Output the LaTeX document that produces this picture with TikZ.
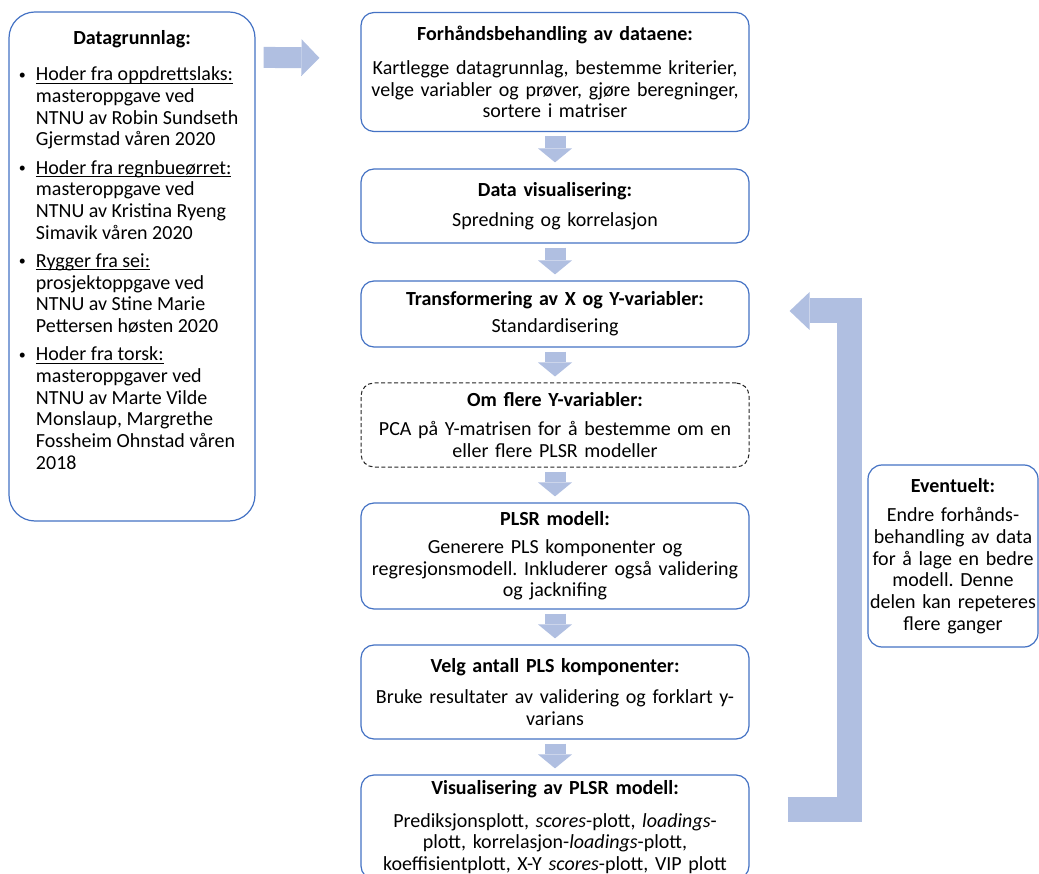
\documentclass[tikz,border=0pt]{standalone}
\usepackage{fontspec}
\setmainfont{Carlito}
\usetikzlibrary{arrows.meta,calc}

\definecolor{boxblue}{HTML}{4472C4}
\definecolor{arrowblue}{HTML}{B0BFE1}

\frenchspacing
\newcommand{\boxtitle}[2][8pt]{\textbf{#2}\\[#1]}
\newcommand{\understrek}[1]{\setbox0\hbox{#1}\rlap{\rule[-3pt]{\wd0}{0.9pt}}\box0}
\newcommand{\kilde}[2]{\par\hangindent=20pt\hangafter=1\noindent\makebox[20pt][l]{\hspace{3pt}\raisebox{1.5pt}{\fontsize{14}{14}\selectfont\textbullet}}\understrek{#1}\\#2\par\vspace{6.5pt}}

\tikzset{
  stepbox/.style={draw=boxblue, line width=1.2pt, rounded corners=13pt, fill=white,
    minimum width=388pt, text width=372pt, align=center, inner sep=0pt,
    font=\fontsize{20}{21.7}\selectfont},
  pcabox/.style={stepbox, draw=black!85, line width=1pt, dash pattern=on 4pt off 2.5pt},
  databox/.style={draw=boxblue, line width=1.2pt, rounded corners=26pt, fill=white,
    minimum width=246pt, inner sep=0pt, font=\fontsize{20}{21.7}\selectfont},
  notebox/.style={stepbox, rounded corners=14pt, minimum width=170pt, text width=168pt},
  downarrow/.style={arrowblue, line width=21pt, shorten <=4pt, shorten >=6pt,
    -{Triangle[width=34pt,length=14pt,line width=0pt]}},
  sidearrow/.style={arrowblue, line width=21pt,
    -{Triangle[width=37pt,length=18pt,line width=0pt]}},
  backarrow/.style={arrowblue, line width=25pt, line join=miter,
    -{Triangle[width=38pt,length=20pt,line width=0pt]}}
}

\begin{document}
\begin{tikzpicture}[x=1pt,y=-1pt]
\useasboundingbox (0,0) rectangle (1039,874);

% Data sources
\node[databox] at (132,266.5) (data) {\begin{minipage}[c][509pt][t]{232pt}
\vspace{18pt}
{\centering\textbf{Datagrunnlag:}\par}
\vspace{15pt}
\kilde{Hoder fra oppdrettslaks:}{masteroppgave ved\\NTNU av Robin Sundseth\\Gjermstad våren 2020}
\kilde{Hoder fra regnbueørret:}{masteroppgave ved\\NTNU av Kristina Ryeng\\Simavik våren 2020}
\kilde{Rygger fra sei:}{prosjektoppgave ved\\NTNU av Stine Marie\\Pettersen høsten 2020}
\kilde{Hoder fra torsk:}{masteroppgaver ved\\NTNU av Marte Vilde\\Monslaup, Margrethe\\Fossheim Ohnstad våren\\2018}
\end{minipage}};

% Steps
\node[stepbox, minimum height=119pt] at (555,72) (prep) {\boxtitle[12pt]{Forhåndsbehandling av dataene:}Kartlegge datagrunnlag, bestemme kriterier,\\velge variabler og prøver, gjøre beregninger,\\sortere i matriser};
\node[stepbox, minimum height=74pt] at (555,206) (visu) {\boxtitle{Data visualisering:}Spredning og korrelasjon};
\node[stepbox, minimum height=66pt] at (555,314) (trans) {\boxtitle[5pt]{Transformering av X og Y-variabler:}Standardisering};
\node[pcabox, minimum height=84pt] at (555,425) (pca) {\boxtitle{Om flere Y-variabler:}PCA på Y-matrisen for å bestemme om en\\eller flere PLSR modeller};
\node[stepbox, minimum height=106pt] at (555,556) (plsr) {\boxtitle[6pt]{PLSR modell:}Generere PLS komponenter og\\regresjonsmodell. Inkluderer også validering\\og jacknifing};
\node[stepbox, minimum height=94pt] at (555,692) (velg) {\boxtitle[10pt]{Velg antall PLS komponenter:}Bruke resultater av validering og forklart y-\\varians};
\node[stepbox, minimum height=104pt] at (555,827) (plot) {\boxtitle[11pt]{Visualisering av PLSR modell:}Prediksjonsplott, \textit{scores}-plott, \textit{loadings}-\\plott, korrelasjon-\textit{loadings}-plott,\\koeffisientplott, X-Y \textit{scores}-plott, VIP plott};

% Optional loop
\node[notebox, minimum height=182pt] at (953,556) (event) {\boxtitle{Eventuelt:}Endre forhånds-\\behandling av data\\for å lage en bedre\\modell. Denne\\delen kan repeteres\\flere ganger};

% Arrows
\draw[sidearrow] ($(data.north east)+(8,46)$) -- ($(prep.north west)+(-41,46)$);
\foreach \a/\b in {prep/visu,visu/trans,trans/pca,pca/plsr,plsr/velg,velg/plot}
  \draw[downarrow] (\a) -- (\b);
\draw[backarrow] ($(plot.north east)+(38,35.5)$) -| ($(trans.east)+(100,-3)$) -- ($(trans.east)+(40,-3)$);

\end{tikzpicture}
\end{document}
